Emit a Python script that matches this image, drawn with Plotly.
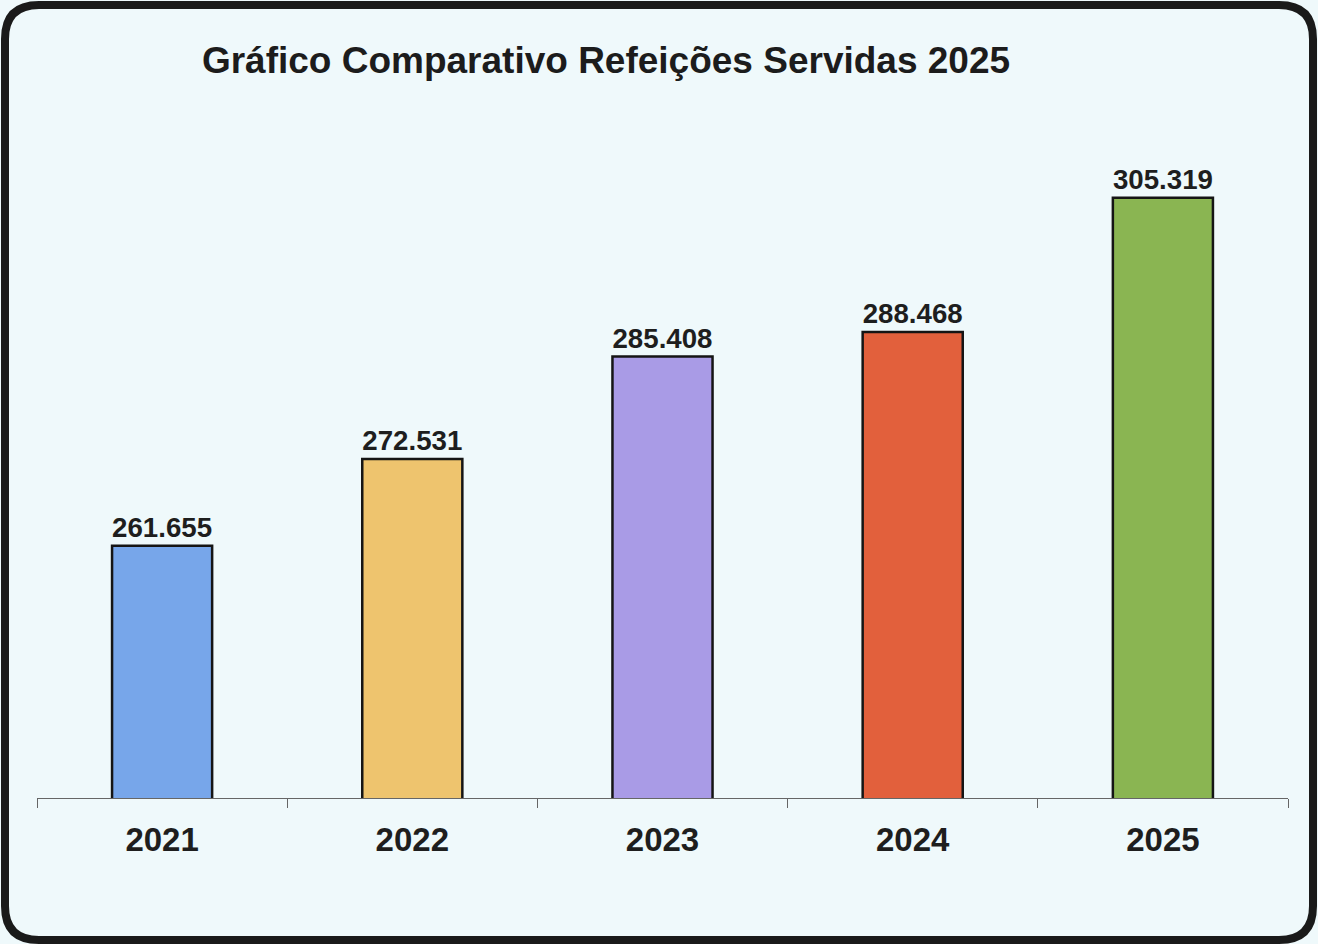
import plotly.graph_objects as go

# ---- data ----
years = ["2021", "2022", "2023", "2024", "2025"]
meals = [261655, 272531, 285408, 288468, 305319]
labels = ["261.655", "272.531", "285.408", "288.468", "305.319"]
bar_colors = ["#77a6ea", "#eec46e", "#a99be6", "#e2603c", "#8ab552"]
title_text = "Gráfico Comparativo Refeições Servidas 2025"

W, H = 1318, 944
ML, MR, MT, MB = 37, 30, 100, 146
FONT = "Liberation Sans, Arial, sans-serif"

fig = go.Figure()
fig.add_trace(go.Bar(
    x=years, y=meals, text=labels, textposition="outside",
    textfont=dict(family=FONT, size=28, color="#1e1e1e", weight="bold"),
    marker=dict(color=bar_colors, line=dict(color="#151515", width=2.5)),
    width=0.4, cliponaxis=False, hoverinfo="x+y",
))

# rounded frame in paper coords
pw, ph = W - ML - MR, H - MT - MB
def px(x):
    return (x - ML) / pw
def py(y):
    return (H - MB - y) / ph
x0, x1, y0, y1, r = 5, 1313, 5, 940, 34
path = (
    f"M {px(x0 + r)} {py(y0)} L {px(x1 - r)} {py(y0)} "
    f"Q {px(x1)} {py(y0)} {px(x1)} {py(y0 + r)} "
    f"L {px(x1)} {py(y1 - r)} "
    f"Q {px(x1)} {py(y1)} {px(x1 - r)} {py(y1)} "
    f"L {px(x0 + r)} {py(y1)} "
    f"Q {px(x0)} {py(y1)} {px(x0)} {py(y1 - r)} "
    f"L {px(x0)} {py(y0 + r)} "
    f"Q {px(x0)} {py(y0)} {px(x0 + r)} {py(y0)} Z"
)

fig.update_layout(
    width=W, height=H,
    margin=dict(l=ML, r=MR, t=MT, b=MB),
    paper_bgcolor="#eff9fb", plot_bgcolor="rgba(0,0,0,0)",
    showlegend=False,
    title=dict(text=f"<b>{title_text}</b>", x=606 / W, xanchor="center",
               y=1 - 60 / H, yanchor="middle",
               font=dict(family=FONT, size=37, color="#1c1c1c")),
    xaxis=dict(type="category", showline=True, linecolor="#666666", linewidth=1.2,
               ticks="outside", tickson="boundaries", ticklen=9, tickcolor="#666666",
               tickwidth=1.2, showgrid=False,
               tickfont=dict(family=FONT, size=33, color="#1e1e1e", weight="bold"),
               ticklabelstandoff=12),
    yaxis=dict(range=[230000, 230000 + ph * 125.5], visible=False, showgrid=False),
    bargap=0.6,
    shapes=[dict(type="path", xref="paper", yref="paper", path=path,
                 line=dict(color="#1a1a1a", width=8), layer="above")],
)

fig.write_html("out.html", config={"displayModeBar": False},
               post_script="document.body.style.margin='0';document.body.style.overflow='hidden';")
